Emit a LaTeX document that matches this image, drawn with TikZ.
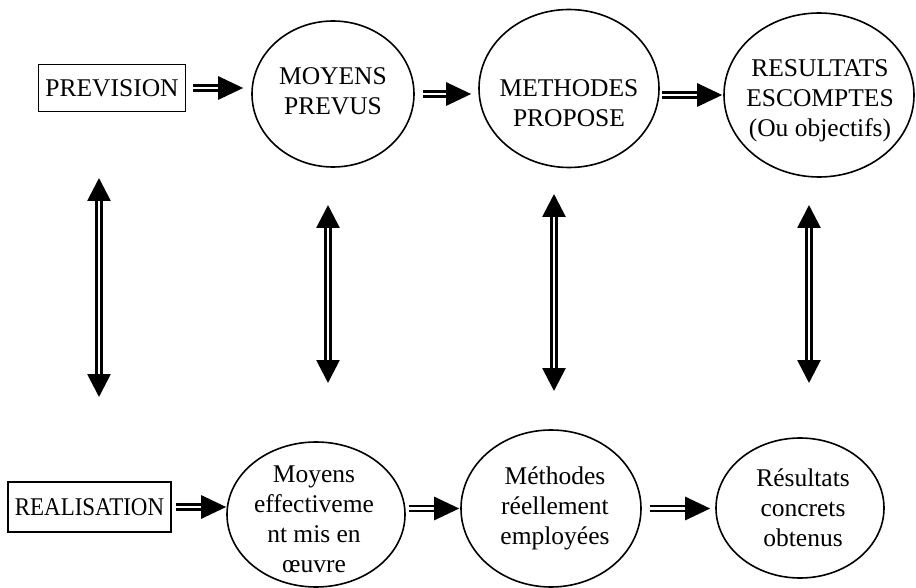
\documentclass[tikz,border=0pt]{standalone}
\usepackage{fontspec}
\setmainfont{Liberation Serif}
\usetikzlibrary{arrows.meta,shapes.geometric}
\begin{document}
\begin{tikzpicture}[x=1pt,y=-1pt,
  txt/.style={font=\fontsize{25.5}{30}\selectfont, align=center, inner sep=0pt},
  bx/.style={draw, line width=1.6pt, inner sep=0pt, font=\fontsize{25.5}{30}\selectfont},
  ell/.style={draw, ellipse, line width=1.6pt, inner sep=0pt},
  harrow/.style={double, double distance=2.2pt, line width=2.8pt, -{Triangle[length=25pt,width=23pt]}},
  varrow/.style={double, double distance=2.2pt, line width=2.8pt, {Triangle[length=23pt,width=23pt]}-{Triangle[length=23pt,width=23pt]}},
]
\useasboundingbox (0,0) rectangle (916,588);
% top row
\node[bx, minimum width=147pt, minimum height=47pt] (prev) at (112,88) {PREVISION};
\node[ell, minimum width=162pt, minimum height=146pt] (moy) at (333,94) {};
\node[txt] (moyT) at (333,91.5) {MOYENS\\PREVUS};
\node[ell, minimum width=180pt, minimum height=158pt] (meth) at (569,88.5) {};
\node[txt] (methT) at (569,103.5) {METHODES\\PROPOSE};
\node[ell, minimum width=190pt, minimum height=164pt] (res) at (819,95) {};
\node[txt] (resT) at (820,101) {RESULTATS\\ESCOMPTES\\(Ou objectifs)};
% bottom row
\node[bx, minimum width=163pt, minimum height=50pt] (real) at (89.5,507) {\scalebox{0.9}[1]{REALISATION}};
\node[ell, minimum width=178pt, minimum height=145pt] (moyB) at (316,514.5) {};
\node[txt] (moyBT) at (314,519) {Moyens\\effectiveme\\nt mis en\\œuvre};
\node[ell, minimum width=180pt, minimum height=157pt] (methB) at (551,508.5) {};
\node[txt] (methBT) at (555,508) {Méthodes\\réellement\\employées};
\node[ell, minimum width=168pt, minimum height=140pt] (resB) at (800,508) {};
\node[txt] (resBT) at (803,507.5) {Résultats\\concrets\\obtenus};
% horizontal arrows
\draw[harrow, shorten <=7pt, shorten >=8pt] (prev.east) -- (prev.east -| moy.west);
\draw[harrow, shorten <=8pt, shorten >=7pt] (moy.east) -- (moy.east -| meth.west);
\draw[harrow, shorten <=2pt, shorten >=1pt] (res.west -| meth.east) -- (res.west);
\draw[harrow, shorten <=4pt] (real.east) -- (real.east -| moyB.west);
\draw[harrow, shorten <=3pt, shorten >=1pt] (methB.west -| moyB.east) -- (methB.west);
\draw[harrow, shorten <=8pt, shorten >=5pt] (methB.east) -- (methB.east -| resB.west);
% vertical arrows
\coordinate (v1a) at (99,178); \coordinate (v1b) at (99,397);
\coordinate (v2a) at (328,205); \coordinate (v2b) at (328,383);
\coordinate (v3a) at (554,194); \coordinate (v3b) at (554,391);
\coordinate (v4a) at (809,205); \coordinate (v4b) at (809,383);
\draw[varrow] (v1a) -- (v1b);
\draw[varrow] (v2a) -- (v2b);
\draw[varrow] (v3a) -- (v3b);
\draw[varrow] (v4a) -- (v4b);
\end{tikzpicture}
\end{document}
